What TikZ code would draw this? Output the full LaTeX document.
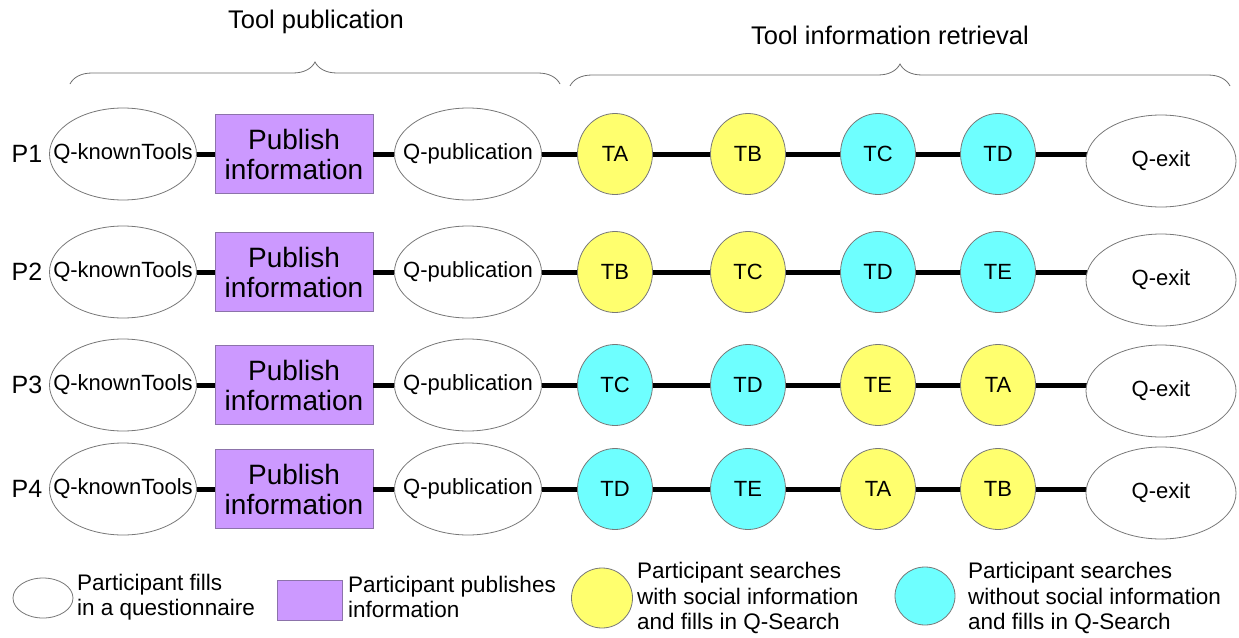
\documentclass[tikz,border=0pt]{standalone}
\usepackage{fontspec}
\setmainfont{Liberation Sans}
\usetikzlibrary{shapes.geometric,decorations.pathreplacing,backgrounds}
\definecolor{qline}{RGB}{120,120,120}
\definecolor{yel}{RGB}{255,255,110}
\definecolor{cya}{RGB}{110,255,255}
\definecolor{pur}{RGB}{204,153,255}
\definecolor{purline}{RGB}{140,115,170}
\definecolor{bracecol}{RGB}{110,110,110}
\newcommand{\ztext}[1]{\makebox[0pt]{#1}}
\begin{document}
\begin{tikzpicture}[x=1pt,y=-1pt,
  qnode/.style={ellipse, draw=qline, line width=0.8pt, fill=white, minimum width=147pt, minimum height=92pt, inner sep=0pt, font=\fontsize{22}{26}\selectfont},
  exitnode/.style={qnode, minimum width=150pt, minimum height=92pt},
  pubbox/.style={rectangle, draw=purline, line width=0.8pt, fill=pur, minimum width=158pt, minimum height=79pt, inner sep=0pt, align=center, font=\fontsize{28}{30}\selectfont},
  tnode/.style={ellipse, draw=qline, line width=0.8pt, minimum width=75pt, minimum height=81pt, inner sep=0pt, font=\fontsize{22}{26}\selectfont},
  ynode/.style={tnode, fill=yel},
  cnode/.style={tnode, fill=cya},
  plabel/.style={font=\fontsize{25}{28}\selectfont},
  conn/.style={line width=5pt, black},
  bracestyle/.style={decorate, decoration={brace, amplitude=22pt}, draw=bracecol, line width=0.8pt},
  title/.style={font=\fontsize{25.5}{30}\selectfont},
  legtext/.style={anchor=west, align=left, font=\fontsize{22.5}{25.5}\selectfont, inner sep=0pt}
]
\useasboundingbox (0,0) rectangle (1239,637);

% titles and braces
\node[title] (t1) at (316,22) {Tool publication};
\node[title] (t2) at (890,35) {Tool information retrieval};
\coordinate (b1s) at (70,84);
\coordinate (b1e) at (560,84);
\coordinate (b2s) at (570,86);
\coordinate (b2e) at (1230,86);
\draw[bracestyle] (b1s) -- (b1e);
\draw[bracestyle] (b2s) -- (b2e);

% rows
\foreach \r/\y/\ey/\a/\sa/\b/\sb/\c/\sc/\d/\sd in {
  1/154/161/TA/ynode/TB/ynode/TC/cnode/TD/cnode,
  2/272/280/TB/ynode/TC/ynode/TD/cnode/TE/cnode,
  3/385/391/TC/cnode/TD/cnode/TE/ynode/TA/ynode,
  4/489/493/TD/cnode/TE/cnode/TA/ynode/TB/ynode}{
  \node[plabel] (p\r) at (27,\y) {P\r};
  \node[qnode] (k\r) at (123,\y) {\ztext{Q-knownTools}};
  \node[pubbox] (u\r) at (294,\y) {Publish\\information};
  \node[qnode] (q\r) at (468,\y) {\ztext{Q-publication}};
  \node[\sa] (a\r) at (615,\y) {\a};
  \node[\sb] (b\r) at (748,\y) {\b};
  \node[\sc] (c\r) at (878,\y) {\c};
  \node[\sd] (d\r) at (998,\y) {\d};
  \node[exitnode] (e\r) at (1161,\ey) {Q-exit};
  \draw[conn] (k\r) -- (u\r);
  \draw[conn] (u\r) -- (q\r);
  \draw[conn] (q\r) -- (a\r);
  \draw[conn] (a\r) -- (b\r);
  \draw[conn] (b\r) -- (c\r);
  \draw[conn] (c\r) -- (d\r);
  \begin{pgfonlayer}{background}
    \draw[conn] (d\r) -- (d\r -| e\r);
  \end{pgfonlayer}
}

% legend
\node[qnode, minimum width=60pt, minimum height=40pt] (lq) at (43,598) {};
\node[legtext] (lqt) at (77,597) {Participant fills\\in a questionnaire};
\node[pubbox, minimum width=65pt, minimum height=40pt] (lp) at (310,600) {};
\node[legtext] (lpt) at (348,597) {Participant publishes\\information};
\node[ynode, minimum width=61pt, minimum height=60pt] (ly) at (602,598) {};
\node[legtext] (lyt) at (637,598) {Participant searches\\with social information\\and fills in Q-Search};
\node[cnode, minimum width=60pt, minimum height=58pt] (lc) at (925,596) {};
\node[legtext] (lct) at (968,598) {Participant searches\\without social information\\and fills in Q-Search};
\end{tikzpicture}
\end{document}
